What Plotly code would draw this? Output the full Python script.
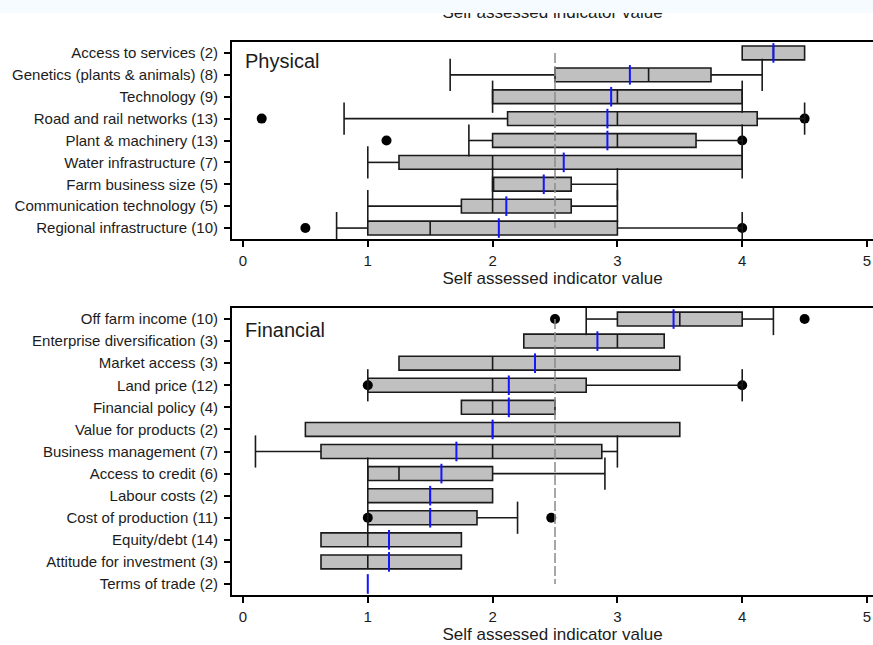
import plotly.graph_objects as go

# ---------------- data ----------------
phys_cats = ["Access to services (2)", "Genetics (plants & animals) (8)", "Technology (9)",
             "Road and rail networks (13)", "Plant & machinery (13)", "Water infrastructure (7)",
             "Farm business size (5)", "Communication technology (5)", "Regional infrastructure (10)"]
phys_q1 = [4.0, 2.5, 2.0, 2.12, 2.0, 1.25, 2.0, 1.75, 1.0]
phys_med = [4.25, 3.25, 3.0, 3.0, 3.0, 2.0, 2.0, 2.0, 1.5]
phys_q3 = [4.5, 3.75, 4.0, 4.12, 3.63, 4.0, 2.63, 2.63, 3.0]
phys_lo = [None, 1.66, 2.0, 0.81, 1.81, 1.0, 2.0, 1.0, 0.75]
phys_hi = [None, 4.16, 4.0, 4.5, 4.0, 4.0, 3.0, 3.0, 4.0]
phys_mean = [4.25, 3.10, 2.95, 2.92, 2.92, 2.57, 2.41, 2.11, 2.05]
phys_out_cat = ["Road and rail networks (13)", "Road and rail networks (13)",
                "Plant & machinery (13)", "Plant & machinery (13)",
                "Regional infrastructure (10)", "Regional infrastructure (10)"]
phys_out_val = [0.15, 4.5, 1.15, 4.0, 0.5, 4.0]

fin_cats = ["Off farm income (10)", "Enterprise diversification (3)", "Market access (3)",
            "Land price (12)", "Financial policy (4)", "Value for products (2)",
            "Business management (7)", "Access to credit (6)", "Labour costs (2)",
            "Cost of production (11)", "Equity/debt (14)", "Attitude for investment (3)",
            "Terms of trade (2)"]
fin_q1 = [3.0, 2.25, 1.25, 1.0, 1.75, 0.5, 0.625, 1.0, 1.0, 1.0, 0.625, 0.625, 1.0]
fin_med = [3.5, 3.0, 2.0, 2.0, 2.0, 2.0, 2.0, 1.25, 1.5, 1.5, 1.0, 1.0, 1.0]
fin_q3 = [4.0, 3.375, 3.5, 2.75, 2.5, 3.5, 2.875, 2.0, 2.0, 1.875, 1.75, 1.75, 1.0]
fin_lo = [2.75, None, None, 1.0, None, None, 0.1, 1.0, None, 1.0, None, None, None]
fin_hi = [4.25, None, None, 4.0, None, None, 3.0, 2.9, None, 2.2, None, None, None]
fin_mean = [3.45, 2.84, 2.34, 2.13, 2.13, 2.0, 1.71, 1.59, 1.5, 1.5, 1.17, 1.17, 1.0]
fin_out_cat = ["Off farm income (10)", "Off farm income (10)", "Land price (12)", "Land price (12)",
               "Cost of production (11)", "Cost of production (11)"]
fin_out_val = [2.5, 4.5, 1.0, 4.0, 1.0, 2.47]

x_ticks = [0, 1, 2, 3, 4, 5]
reference_value = 2.5
axis_title = "Self assessed indicator value"

# ---------------- style ----------------
FONT = "Liberation Sans, Arial, sans-serif"
TXT = "#1c1c1c"
BOXFILL = "#c0c0c0"
MEANC = "#1414ff"
XR = [-0.088, 5.048]

fig = go.Figure()


def add_panel(cats, q1, med, q3, lo, hi, mean, out_cat, out_val, xa, ya):
    # outliers (under boxes)
    fig.add_trace(go.Scatter(x=out_val, y=out_cat, mode="markers", xaxis=xa, yaxis=ya,
                             marker=dict(symbol="circle", size=10, color="black"),
                             showlegend=False, hoverinfo="skip"))
    # whiskers
    wx, wy, cx, cy = [], [], [], []
    for c, a, b, l, h in zip(cats, q1, q3, lo, hi):
        if l is not None:
            wx += [l, a, None]; wy += [c, c, None]
            cx.append(l); cy.append(c)
        if h is not None:
            wx += [b, h, None]; wy += [c, c, None]
            cx.append(h); cy.append(c)
    fig.add_trace(go.Scatter(x=wx, y=wy, mode="lines", xaxis=xa, yaxis=ya,
                             line=dict(color="#1a1a1a", width=1.6),
                             showlegend=False, hoverinfo="skip"))
    fig.add_trace(go.Scatter(x=cx, y=cy, mode="markers", xaxis=xa, yaxis=ya,
                             marker=dict(symbol="line-ns", size=23,
                                         line=dict(color="#1a1a1a", width=1.6)),
                             showlegend=False, hoverinfo="skip"))
    # boxes (skip degenerate)
    idx = [i for i in range(len(cats)) if q3[i] > q1[i]]
    fig.add_trace(go.Box(y=[cats[i] for i in idx], q1=[q1[i] for i in idx],
                         median=[med[i] for i in idx], q3=[q3[i] for i in idx],
                         lowerfence=[q1[i] for i in idx], upperfence=[q3[i] for i in idx],
                         orientation="h", xaxis=xa, yaxis=ya, width=0.63, whiskerwidth=0,
                         fillcolor=BOXFILL, line=dict(color="#1a1a1a", width=1.6),
                         boxpoints=False, showlegend=False, hoverinfo="skip"))
    # reference dashed line
    fig.add_trace(go.Scatter(x=[reference_value, reference_value], y=[cats[0], cats[-1]],
                             mode="lines", xaxis=xa, yaxis=ya,
                             line=dict(color="#8a8a8a", width=1.5, dash="10px,3px"),
                             showlegend=False, hoverinfo="skip"))
    # means
    fig.add_trace(go.Scatter(x=mean, y=cats, mode="markers", xaxis=xa, yaxis=ya,
                             marker=dict(symbol="line-ns", size=14,
                                         line=dict(color=MEANC, width=2)),
                             showlegend=False, hoverinfo="skip"))


add_panel(phys_cats, phys_q1, phys_med, phys_q3, phys_lo, phys_hi, phys_mean,
          phys_out_cat, phys_out_val, "x", "y")
add_panel(fin_cats, fin_q1, fin_med, fin_q3, fin_lo, fin_hi, fin_mean,
          fin_out_cat, fin_out_val, "x2", "y2")

# cropped title strip at very top
fig.add_trace(go.Scatter(x=[2.48], y=[13.5], mode="text", text=[axis_title],
                         xaxis="x3", yaxis="y3", textposition="middle center",
                         textfont=dict(family=FONT, size=17, color=TXT),
                         showlegend=False, hoverinfo="skip"))

H = 645.0
xcommon = dict(range=XR, showline=True, mirror=True, linecolor="black", linewidth=2,
               ticks="outside", ticklen=6, tickwidth=1.5, tickcolor="black",
               tickvals=x_ticks, showgrid=False, zeroline=False,
               tickfont=dict(family=FONT, size=15, color=TXT),
               ticklabelstandoff=1,
               title=dict(text=axis_title, font=dict(family=FONT, size=17, color=TXT), standoff=3))
ycommon = dict(type="category", showline=True, linecolor="black", linewidth=2,
               ticks="outside", ticklen=6, tickwidth=1.5, tickcolor="black",
               showgrid=False, zeroline=False, ticklabelstandoff=3,
               tickfont=dict(family=FONT, size=15, color=TXT))

fig.update_layout(
    width=873, height=645,
    margin=dict(l=232, r=0, t=0, b=0),
    paper_bgcolor="white", plot_bgcolor="white",
    boxmode="overlay",
    xaxis=dict(anchor="y", domain=[0, 1], **xcommon),
    yaxis=dict(domain=[1 - 239 / H, 1 - 42 / H], anchor="x",
               categoryorder="array", categoryarray=phys_cats,
               range=[len(phys_cats) - 0.5, -0.5], **ycommon),
    xaxis2=dict(anchor="y2", domain=[0, 1], **xcommon),
    yaxis2=dict(domain=[1 - 595 / H, 1 - 308 / H], anchor="x2",
                categoryorder="array", categoryarray=fin_cats,
                range=[len(fin_cats) - 0.5, -0.5], **ycommon),
    xaxis3=dict(anchor="y3", domain=[0, 1], range=XR, visible=False),
    yaxis3=dict(anchor="x3", domain=[1 - 40 / H, 1], range=[40, 0], visible=False),
    shapes=[dict(type="rect", xref="paper", yref="paper", x0=-0.5, x1=1.1,
                 y0=1 - 13 / H, y1=1.02, fillcolor="#f5fbfe", line=dict(width=0),
                 layer="above")],
    annotations=[
        dict(text="Physical", xref="x domain", yref="y domain", x=0.017, y=1 - 18.5 / 197,
             xanchor="left", yanchor="middle", showarrow=False,
             font=dict(family=FONT, size=20, color=TXT)),
        dict(text="Financial", xref="x2 domain", yref="y2 domain", x=0.017, y=1 - 21.7 / 287,
             xanchor="left", yanchor="middle", showarrow=False,
             font=dict(family=FONT, size=20, color=TXT)),
    ],
)

fig.write_html("out.html")
